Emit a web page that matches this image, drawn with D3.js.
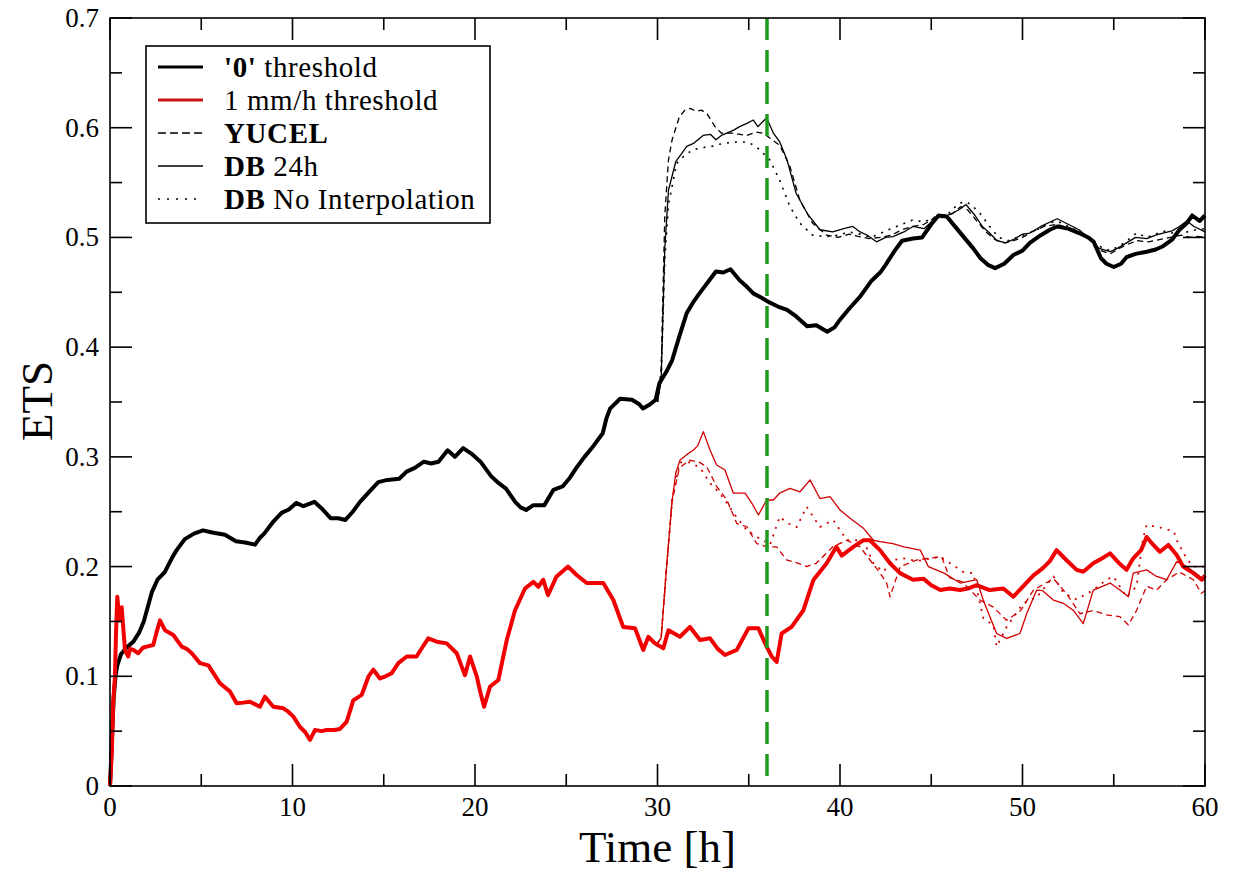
<!DOCTYPE html>
<html><head><meta charset="utf-8">
<script src="https://cdn.jsdelivr.net/npm/d3@7"></script>
<style>body{margin:0;background:#fff;} text{font-family:"Liberation Serif","Times New Roman",serif;}</style>
</head><body><svg id="c" width="1234" height="871"></svg>
<script>
// ---- data (time [h], ETS) ----
const xTicks = [0,10,20,30,40,50,60];
const yTicks = [0,0.1,0.2,0.3,0.4,0.5,0.6,0.7];
const yTickLabels = ["0","0.1","0.2","0.3","0.4","0.5","0.6","0.7"];
const markerTime = 36;

const black0 = [[0,0],[0.1,0.04],[0.2,0.08],[0.3,0.1],[0.4,0.11],[0.6,0.12],[0.9,0.126],[1.3,0.132],[1.6,0.14],[1.85,0.15],[2.1,0.165],[2.3,0.177],[2.6,0.188],[3.0,0.195],[3.4,0.208],[3.65,0.215],[4.1,0.225],[4.6,0.23],[5.1,0.233],[5.6,0.231],[6.3,0.229],[6.9,0.223],[7.4,0.222],[7.95,0.22],[8.2,0.226],[8.45,0.23],[8.9,0.24],[9.4,0.249],[9.8,0.252],[10.2,0.258],[10.6,0.255],[11.2,0.259],[11.6,0.253],[12.1,0.244],[12.5,0.244],[12.9,0.2425],[13.3,0.25],[13.7,0.259],[14.2,0.268],[14.7,0.277],[15.2,0.279],[15.85,0.28],[16.25,0.2865],[16.7,0.29],[17.2,0.2956],[17.6,0.294],[18.0,0.2956],[18.5,0.306],[18.9,0.3],[19.35,0.308],[19.8,0.303],[20.3,0.2956],[20.9,0.282],[21.3,0.276],[21.7,0.271],[22.2,0.259],[22.5,0.254],[22.8,0.2516],[23.2,0.256],[23.8,0.256],[24.3,0.27],[24.8,0.273],[25.2,0.281],[25.6,0.291],[26.0,0.3],[26.4,0.308],[27.0,0.3215],[27.2,0.335],[27.4,0.344],[27.95,0.353],[28.6,0.352],[29.0,0.348],[29.2,0.344],[29.6,0.348],[29.9,0.352],[30.1,0.367],[30.5,0.378],[30.8,0.388],[31.2,0.41],[31.6,0.431],[32.0,0.442],[32.3,0.449],[32.8,0.46],[33.2,0.469],[33.6,0.468],[34.0,0.471],[34.5,0.461],[34.9,0.455],[35.25,0.449],[35.7,0.445],[36.1,0.441],[36.6,0.437],[37.1,0.434],[37.6,0.428],[38.2,0.419],[38.7,0.42],[39.3,0.414],[39.7,0.418],[40.0,0.425],[40.5,0.435],[41.1,0.446],[41.7,0.46],[42.2,0.468],[42.5,0.475],[43.0,0.488],[43.4,0.497],[44.0,0.499],[44.5,0.5],[45.0,0.512],[45.4,0.52],[45.85,0.519],[46.4,0.508],[46.9,0.498],[47.3,0.49],[47.7,0.481],[48.1,0.475],[48.5,0.472],[49.0,0.476],[49.5,0.484],[50.0,0.488],[50.4,0.495],[51.0,0.502],[51.5,0.507],[51.9,0.51],[52.5,0.508],[53.1,0.504],[53.6,0.5],[53.9,0.496],[54.3,0.481],[54.6,0.476],[55.0,0.473],[55.4,0.476],[55.7,0.482],[56.2,0.485],[56.8,0.487],[57.3,0.489],[57.7,0.492],[58.2,0.498],[58.6,0.507],[59.0,0.513],[59.3,0.52],[59.7,0.515],[60.0,0.52]];

const black0Db24 = [[30.0,0.35],[30.2,0.37],[30.4,0.49],[30.6,0.543],[31.0,0.569],[31.3,0.576],[31.6,0.583],[32.0,0.586],[32.5,0.593],[32.9,0.594],[33.2,0.589],[33.5,0.593],[33.8,0.595],[34.2,0.598],[34.5,0.601],[34.9,0.604],[35.25,0.607],[35.5,0.601],[35.98,0.609],[36.35,0.595],[36.7,0.587],[37.1,0.5705],[37.6,0.54],[38.2,0.522],[38.9,0.507],[39.6,0.505],[40.2,0.508],[40.7,0.51],[41.1,0.505],[41.5,0.502],[42.0,0.496],[42.5,0.5],[42.9,0.5007],[43.5,0.505],[44.0,0.51],[44.6,0.508],[45.4,0.52],[45.9,0.52],[46.5,0.525],[46.9,0.53],[47.4,0.52],[47.8,0.51],[48.2,0.504],[48.6,0.497],[49.1,0.495],[49.6,0.499],[50.0,0.503],[50.4,0.504],[51.0,0.51],[51.9,0.517],[52.5,0.512],[53.1,0.507],[53.6,0.5],[54.2,0.49],[54.8,0.487],[55.2,0.49],[55.7,0.495],[56.2,0.5],[56.8,0.499],[57.3,0.502],[57.7,0.504],[58.2,0.506],[58.6,0.51],[59.0,0.515],[59.4,0.51],[60,0.505]];

const black0Yucel = [[30.0,0.35],[30.2,0.38],[30.4,0.52],[30.6,0.5705],[30.8,0.589],[31.2,0.61],[31.5,0.616],[31.8,0.6176],[32.1,0.615],[32.4,0.616],[32.7,0.613],[33.15,0.601],[33.5,0.595],[34.15,0.595],[34.9,0.593],[35.4,0.596],[35.8,0.595],[36.2,0.59],[36.7,0.584],[37.26,0.5645],[37.8,0.534],[38.5,0.513],[39.27,0.502],[39.9,0.5],[40.5,0.503],[41.0,0.501],[41.6,0.499],[42.2,0.5],[42.8,0.502],[43.4,0.507],[44.0,0.51],[44.6,0.512],[45.2,0.518],[45.6,0.518],[46.2,0.522],[46.6,0.528],[47.0,0.525],[47.5,0.515],[48.0,0.505],[48.5,0.498],[49.0,0.495],[49.5,0.497],[50.0,0.5],[50.5,0.505],[51.2,0.51],[51.9,0.512],[52.6,0.508],[53.2,0.503],[53.8,0.497],[54.3,0.488],[54.8,0.485],[55.3,0.49],[55.8,0.494],[56.3,0.497],[56.9,0.496],[57.5,0.498],[58.1,0.5],[58.7,0.502],[59.2,0.5],[59.6,0.501],[60,0.5]];

const black0NoInt = [[30.0,0.35],[30.2,0.37],[30.4,0.48],[30.6,0.53],[31.05,0.5675],[31.5,0.575],[31.96,0.58],[32.5,0.582],[32.97,0.583],[33.4,0.585],[33.79,0.586],[34.3,0.587],[34.9,0.587],[35.3,0.584],[35.6,0.58],[36.16,0.5705],[36.7,0.552],[37.26,0.528],[37.8,0.513],[38.5,0.502],[39.27,0.5007],[39.9,0.502],[40.5,0.505],[41.1,0.503],[41.7,0.5],[42.2,0.5037],[42.8,0.508],[43.4,0.512],[44.0,0.516],[44.6,0.514],[45.4,0.52],[45.9,0.521],[46.5,0.531],[46.94,0.5326],[47.3,0.528],[47.67,0.522],[48.2,0.51],[48.7,0.5],[49.2,0.497],[49.7,0.5],[50.2,0.503],[50.8,0.507],[51.4,0.513],[51.9,0.515],[52.5,0.51],[53.1,0.506],[53.7,0.499],[54.2,0.492],[54.8,0.488],[55.3,0.492],[55.8,0.498],[56.25,0.504],[56.8,0.5],[57.3,0.503],[57.7,0.506],[58.2,0.504],[58.6,0.507],[59.0,0.505],[59.5,0.507],[60,0.508]];

const red1 = [[0,0],[0.1,0.03],[0.18,0.078],[0.27,0.0997],[0.33,0.14],[0.4,0.1725],[0.51,0.151],[0.64,0.163],[0.82,0.124],[1.0,0.118],[1.1,0.125],[1.28,0.124],[1.55,0.121],[1.8,0.126],[2.01,0.127],[2.37,0.1285],[2.55,0.14],[2.74,0.151],[3.01,0.142],[3.47,0.1376],[3.93,0.127],[4.2,0.125],[4.48,0.121],[4.93,0.112],[5.39,0.11],[5.7,0.102],[6.03,0.0936],[6.58,0.086],[6.94,0.0754],[7.3,0.076],[7.67,0.0768],[8.22,0.0723],[8.49,0.0814],[8.95,0.0723],[9.5,0.0708],[9.77,0.0677],[10.05,0.0632],[10.4,0.054],[10.7,0.049],[10.96,0.042],[11.23,0.051],[11.6,0.05],[11.87,0.051],[12.3,0.051],[12.6,0.052],[12.97,0.0586],[13.33,0.078],[13.79,0.083],[14.16,0.0996],[14.43,0.106],[14.79,0.098],[15.1,0.1],[15.43,0.1027],[15.8,0.112],[16.26,0.118],[16.8,0.118],[17.1,0.126],[17.44,0.1346],[17.9,0.1315],[18.45,0.13],[19.0,0.121],[19.2,0.112],[19.45,0.101],[19.73,0.118],[20.1,0.0996],[20.3,0.085],[20.5,0.0723],[20.82,0.0905],[21.28,0.0966],[21.55,0.118],[21.74,0.133],[22.19,0.16],[22.74,0.18],[23.2,0.186],[23.47,0.1816],[23.74,0.188],[24.0,0.174],[24.47,0.191],[25.1,0.2],[25.57,0.1923],[26.12,0.185],[27.03,0.185],[27.58,0.1695],[27.9,0.155],[28.12,0.145],[28.77,0.1437],[29.22,0.124],[29.5,0.136],[29.86,0.13],[30.32,0.1255],[30.6,0.142],[31.23,0.136],[31.78,0.145],[32.33,0.133],[32.88,0.1346],[33.3,0.125],[33.7,0.1194],[34.34,0.124],[34.98,0.1437],[35.53,0.1437],[35.98,0.127],[36.26,0.118],[36.53,0.113],[36.8,0.139],[37.35,0.145],[37.99,0.16],[38.54,0.1877],[39.27,0.203],[39.8,0.218],[40.1,0.21],[40.73,0.218],[41.28,0.224],[41.64,0.224],[42.19,0.215],[42.74,0.203],[43.29,0.194],[44.0,0.188],[44.57,0.189],[45.0,0.183],[45.5,0.1786],[46.0,0.18],[46.58,0.1786],[47.0,0.18],[47.49,0.183],[48.2,0.1786],[48.95,0.18],[49.5,0.1725],[50.2,0.185],[50.6,0.192],[51.1,0.1984],[51.5,0.205],[51.87,0.215],[52.4,0.206],[52.97,0.197],[53.33,0.1953],[53.88,0.203],[54.3,0.207],[54.8,0.212],[55.3,0.203],[55.7,0.197],[56.07,0.2075],[56.5,0.215],[56.8,0.227],[57.17,0.2197],[57.53,0.2135],[57.99,0.2197],[58.45,0.2105],[58.8,0.2],[59.36,0.194],[59.82,0.188],[60,0.192]];

const red1Db24 = [[30.0,0.13],[30.2,0.135],[30.5,0.2],[30.8,0.26],[31.0,0.285],[31.23,0.297],[31.6,0.302],[31.96,0.306],[32.2,0.31],[32.51,0.323],[32.88,0.306],[33.24,0.2926],[33.7,0.288],[34.15,0.267],[34.8,0.267],[35.2,0.257],[35.53,0.247],[35.98,0.2607],[36.35,0.2607],[36.7,0.267],[37.26,0.2713],[37.8,0.268],[38.36,0.279],[38.9,0.262],[39.45,0.2637],[40.0,0.2516],[40.55,0.244],[41.28,0.235],[41.83,0.224],[42.2,0.2227],[42.9,0.221],[43.5,0.218],[44.4,0.215],[44.84,0.2],[45.7,0.194],[46.58,0.185],[47.49,0.188],[47.85,0.1695],[48.58,0.139],[49.13,0.1346],[49.86,0.139],[50.23,0.157],[50.78,0.1786],[51.1,0.178],[51.69,0.1695],[52.24,0.1665],[52.79,0.16],[53.33,0.148],[53.88,0.1786],[54.8,0.185],[55.34,0.1786],[55.8,0.1725],[56.07,0.194],[56.8,0.197],[57.35,0.191],[57.9,0.188],[58.45,0.2045],[59.0,0.2],[59.8,0.19],[60,0.187]];

const red1Yucel = [[30.0,0.13],[30.2,0.135],[30.5,0.2],[30.8,0.26],[31.2,0.29],[31.78,0.297],[32.3,0.295],[32.7,0.291],[33.24,0.273],[33.8,0.2607],[34.34,0.2394],[34.9,0.2363],[35.43,0.221],[35.98,0.218],[36.53,0.218],[37.08,0.206],[37.72,0.203],[38.17,0.2],[38.7,0.203],[39.6,0.218],[40.37,0.224],[41.1,0.218],[41.64,0.206],[42.2,0.194],[42.56,0.185],[42.74,0.1725],[43.3,0.2],[44.2,0.206],[45.57,0.209],[46.0,0.19],[46.7,0.186],[47.67,0.1695],[48.4,0.163],[49.13,0.151],[49.9,0.16],[50.6,0.1786],[51.7,0.189],[52.4,0.1756],[53.15,0.157],[53.88,0.16],[54.6,0.156],[55.34,0.1544],[55.8,0.1467],[56.25,0.16],[56.8,0.182],[57.35,0.1786],[57.9,0.188],[58.6,0.195],[59.36,0.188],[59.8,0.1756],[60,0.178]];

const red1NoInt = [[30.0,0.13],[30.2,0.135],[30.5,0.2],[30.8,0.26],[31.2,0.295],[31.78,0.295],[32.33,0.29],[32.88,0.276],[33.4,0.267],[33.8,0.258],[34.25,0.247],[34.9,0.233],[35.43,0.227],[35.8,0.224],[36.16,0.2197],[36.7,0.2455],[37.08,0.24],[37.63,0.236],[38.17,0.2546],[38.9,0.236],[39.63,0.2425],[40.37,0.224],[41.28,0.224],[41.83,0.203],[42.37,0.1953],[42.9,0.206],[43.47,0.2075],[44.2,0.205],[45.5,0.209],[46.76,0.195],[47.3,0.194],[47.85,0.153],[48.4,0.1467],[48.58,0.127],[49.13,0.145],[50.04,0.1665],[50.78,0.172],[51.7,0.191],[52.24,0.176],[52.97,0.17],[53.88,0.1786],[54.6,0.188],[54.98,0.191],[55.7,0.1725],[56.25,0.182],[56.6,0.225],[56.8,0.238],[57.7,0.235],[58.3,0.232],[58.45,0.224],[59.0,0.207],[59.36,0.2],[60,0.2]];

const legendItems = [
  {bold:"'0'", rest:" threshold", color:"#000", width:3.2, dash:null},
  {bold:"", rest:"1 mm/h threshold", color:"#c81414", width:3.2, dash:null},
  {bold:"YUCEL", rest:"", color:"#000", width:1.3, dash:"8,4"},
  {bold:"DB", rest:" 24h", color:"#000", width:1.3, dash:null},
  {bold:"DB", rest:" No Interpolation", color:"#000", width:1.5, dash:"2,7"}
];

// ---- drawing ----
const svg = d3.select("#c");
const L=110, R=1205, T=18, B=786;
const x = d3.scaleLinear().domain([0,60]).range([L,R]);
const y = d3.scaleLinear().domain([0,0.7]).range([B,T]);
const line = d3.line().x(d=>x(d[0])).y(d=>y(d[1]));

const g = svg.append("g");
function drawSeries(data, color, width, dash){
  const p = g.append("path").datum(data).attr("d", line)
    .attr("fill","none").attr("stroke",color).attr("stroke-width",width)
    .attr("stroke-linejoin","round");
  if(dash) p.attr("stroke-dasharray",dash);
}
drawSeries(black0,"#000",4,null);
drawSeries(red1,"#f00000",4,null);
drawSeries(black0Yucel,"#000",1.3,"6,4");
drawSeries(black0Db24,"#000",1.3,null);
drawSeries(black0NoInt,"#000",1.6,"2,6");
drawSeries(red1Yucel,"#d00000",1.3,"6,4");
drawSeries(red1Db24,"#d00000",1.3,null);
drawSeries(red1NoInt,"#d00000",1.8,"2,6");

// marker line
svg.append("line").attr("x1",x(markerTime)).attr("x2",x(markerTime))
  .attr("y1",T).attr("y2",B).attr("stroke","#1e9a1e").attr("stroke-width",3.5)
  .attr("stroke-dasharray","22,10");

// frame and ticks (inward on all four sides)
const axisStyle = sel => sel.attr("stroke","#000").attr("stroke-width",1.6);
svg.append("rect").attr("x",L).attr("y",T).attr("width",R-L).attr("height",B-T)
  .attr("fill","none").call(axisStyle);
const xMinor = d3.range(5,60,10);
const yMinor = d3.range(0.05,0.7,0.1);
const gAx = svg.append("g");
function xt(v,len){
  gAx.append("line").attr("x1",x(v)).attr("x2",x(v)).attr("y1",B).attr("y2",B-len).call(axisStyle);
  gAx.append("line").attr("x1",x(v)).attr("x2",x(v)).attr("y1",T).attr("y2",T+len).call(axisStyle);
}
function yt(v,len){
  gAx.append("line").attr("y1",y(v)).attr("y2",y(v)).attr("x1",L).attr("x2",L+len).call(axisStyle);
  gAx.append("line").attr("y1",y(v)).attr("y2",y(v)).attr("x1",R).attr("x2",R-len).call(axisStyle);
}
xTicks.forEach(v=>xt(v,22)); xMinor.forEach(v=>xt(v,12));
yTicks.forEach(v=>yt(v,22)); yMinor.forEach(v=>yt(v,12));

// tick labels
svg.append("g").selectAll("text").data(xTicks).join("text")
  .attr("x",d=>x(d)).attr("y",B+30).attr("text-anchor","middle")
  .attr("font-size",27).text(d=>d);
svg.append("g").selectAll("text").data(yTicks).join("text")
  .attr("x",L-11).attr("y",d=>y(d)+9).attr("text-anchor","end")
  .attr("font-size",27).text((d,i)=>yTickLabels[i]);

// axis titles
svg.append("text").attr("x",(L+R)/2).attr("y",862).attr("text-anchor","middle")
  .attr("font-size",45).text("Time [h]");
svg.append("text").attr("transform","translate(52,401) rotate(-90)")
  .attr("text-anchor","middle").attr("font-size",45).text("ETS");

// legend
const lg = svg.append("g");
lg.append("rect").attr("x",146).attr("y",46).attr("width",344).attr("height",177)
  .attr("fill","#fff").attr("stroke","#000").attr("stroke-width",1.6);
legendItems.forEach((it,i)=>{
  const ly = 67 + i*33;
  const l = lg.append("line").attr("x1",158).attr("x2",203).attr("y1",ly).attr("y2",ly)
    .attr("stroke",it.color).attr("stroke-width",it.width);
  if(it.dash) l.attr("stroke-dasharray",it.dash);
  const t = lg.append("text").attr("x",224).attr("y",ly+10).attr("font-size",29)
    .attr("letter-spacing",0.6);
  if(it.bold) t.append("tspan").attr("font-weight","bold").text(it.bold);
  t.append("tspan").text(it.rest);
});
</script></body></html>
